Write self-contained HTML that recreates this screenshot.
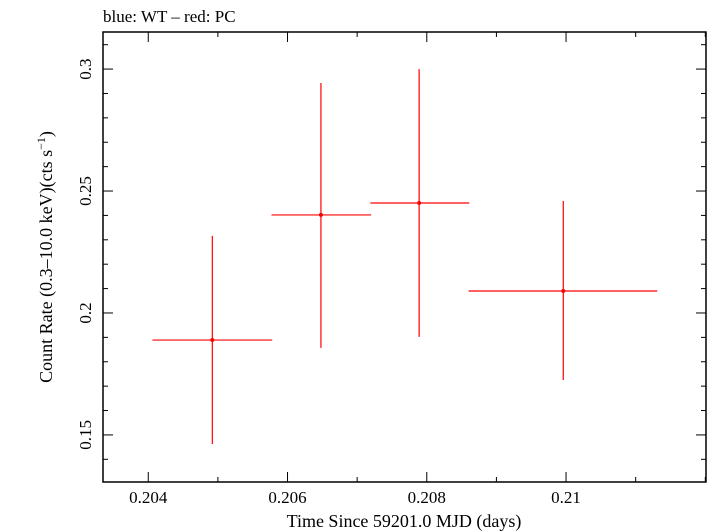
<!DOCTYPE html>
<html><head><meta charset="utf-8"><style>
body{margin:0;background:#fff}
svg{display:block;font-family:"Liberation Serif",serif}
</style></head><body>
<svg id="chart" width="709" height="532" viewBox="0 0 709 532">
<text x="103" y="22" font-size="17">blue: WT – red: PC</text>
<rect x="103" y="32" width="603" height="450" fill="none" stroke="#000" stroke-width="1.5"/>
<g id="axes"></g>
<g id="marks"></g>
<text x="404" y="527" font-size="18" text-anchor="middle">Time Since 59201.0 MJD (days)</text>
<text transform="translate(52,257) rotate(-90)" font-size="18" text-anchor="middle">Count Rate (0.3–10.0 keV)(cts s<tspan dy="-7" font-size="12">−1</tspan><tspan dy="7">)</tspan></text>
</svg>
<script>
const xTicks=[0.204,0.206,0.208,0.21];
const xTickLabels=["0.204","0.206","0.208","0.21"];
const yTicks=[0.15,0.2,0.25,0.3];
const yTickLabels=["0.15","0.2","0.25","0.3"];
const tCenter=[0.20492,0.20648,0.20789,0.20996];
const tLo=[0.20406,0.20577,0.20719,0.20860];
const tHi=[0.20578,0.20720,0.20861,0.21131];
const rate=[0.1889,0.2402,0.2451,0.2090];
const rateLo=[0.1463,0.1857,0.1902,0.1725];
const rateHi=[0.2316,0.2943,0.3000,0.2459];
const X0=103,X1=706,Y0=32,Y1=482,xmin=0.20335,xmax=0.21201,ymin=0.1307,ymax=0.3152;
const xs=v=>X0+(v-xmin)/(xmax-xmin)*(X1-X0);
const ys=v=>Y1-(v-ymin)/(ymax-ymin)*(Y1-Y0);
const NS="http://www.w3.org/2000/svg";
function mk(tag,attrs,parent){const e=document.createElementNS(NS,tag);for(const k in attrs)e.setAttribute(k,attrs[k]);parent.appendChild(e);return e;}
const axes=document.getElementById('axes'),marks=document.getElementById('marks');
// minor x ticks
for(let i=0;i<12;i++){const v=0.203+i*0.001;if(v<xmin||v>xmax)continue;const x=xs(v);const major=xTicks.some(t=>Math.abs(t-v)<1e-7);const L=major?10:5;
const a=mk('line',{x1:x,x2:x,y1:Y1,y2:Y1-L,stroke:'#000','stroke-width':1},axes);


const b=mk('line',{x1:x,x2:x,y1:Y0,y2:Y0+L,stroke:'#000','stroke-width':1},axes);

}
for(let i=0;i<25;i++){const v=0.13+i*0.01;if(v<ymin||v>ymax)continue;const y=ys(v);const major=yTicks.some(t=>Math.abs(t-v)<1e-7);const L=major?10:5;
const a=mk('line',{x1:X0,x2:X0+L,y1:y,y2:y,stroke:'#000','stroke-width':1},axes);


const b=mk('line',{x1:X1,x2:X1-L,y1:y,y2:y,stroke:'#000','stroke-width':1},axes);

}
xTicks.forEach((v,i)=>{const t=mk('text',{x:xs(v),y:503,'font-size':17,'text-anchor':'middle'},axes);t.textContent=xTickLabels[i];

});
yTicks.forEach((v,i)=>{const t=mk('text',{transform:`translate(91,${ys(v)}) rotate(-90)`,'font-size':17,'text-anchor':'middle'},axes);t.textContent=yTickLabels[i];

});
tCenter.forEach((c,i)=>{
const g=mk('g',{},marks);


mk('line',{x1:xs(tLo[i]),x2:xs(tHi[i]),y1:ys(rate[i]),y2:ys(rate[i]),stroke:'#f00','stroke-width':1.2},g);
mk('line',{x1:xs(c),x2:xs(c),y1:ys(rateLo[i]),y2:ys(rateHi[i]),stroke:'#f00','stroke-width':1.2},g);
mk('circle',{cx:xs(c),cy:ys(rate[i]),r:2,fill:'#f00'},g);
});
</script>
</body></html>
